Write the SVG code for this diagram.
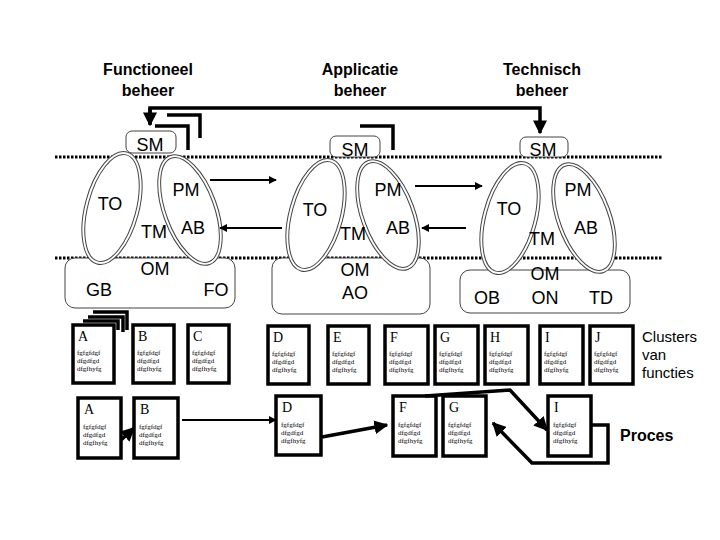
<svg xmlns="http://www.w3.org/2000/svg" width="720" height="540" viewBox="0 0 720 540">
<defs>
<style>
.h{font-family:"Liberation Sans",Arial,sans-serif;font-weight:bold;font-size:16px;text-anchor:middle}
.l{font-family:"Liberation Sans",Arial,sans-serif;font-size:18px;text-anchor:middle}
.o{fill:#fff;stroke:#444;stroke-width:1}
.card rect{fill:#fff;stroke:#000;stroke-width:3.5}
.card text{font-family:"Liberation Serif","Times New Roman",serif}
.t{font-size:7px}
.k{font-size:14px}
.dot{stroke:#000;stroke-width:3;stroke-dasharray:2.5 1.5}
.c{fill:none;stroke:#000;stroke-width:2}
.th{fill:none;stroke:#000;stroke-width:3.5}
</style>
<marker id="a" viewBox="0 0 10 10" refX="9" refY="5" markerWidth="4" markerHeight="4" orient="auto"><path d="M0,0L10,5L0,10z"/></marker>
</defs>
<rect width="720" height="540" fill="#fff"/>
<text class="h" x="148" y="75">Functioneel</text><text class="h" x="148" y="96">beheer</text>
<text class="h" x="360" y="75">Applicatie</text><text class="h" x="360" y="96">beheer</text>
<text class="h" x="542" y="75">Technisch</text><text class="h" x="542" y="96">beheer</text>
<line class="dot" x1="55" y1="157" x2="662" y2="157"/>
<line class="dot" x1="55" y1="258" x2="662" y2="258"/>
<g id="domain1">
<rect class="o" x="65" y="258" width="170" height="50" rx="10"/>
<ellipse class="o" cx="112" cy="208" rx="27" ry="58" transform="rotate(15 112 208)"/>
<ellipse class="o" cx="112" cy="208" rx="24" ry="55" transform="rotate(15 112 208)"/>
<ellipse class="o" cx="190" cy="210" rx="27" ry="58" transform="rotate(-20 190 210)"/>
<ellipse class="o" cx="190" cy="210" rx="24" ry="55" transform="rotate(-20 190 210)"/>
<rect class="o" x="126" y="131" width="50" height="22" rx="6"/>
<text class="l" x="150" y="151">SM</text><text class="l" x="110" y="210">TO</text><text class="l" x="186" y="196">PM</text>
<text class="l" x="154" y="238">TM</text><text class="l" x="193" y="234">AB</text><text class="l" x="155" y="275">OM</text>
<text class="l" x="99" y="296">GB</text><text class="l" x="216" y="296">FO</text>
</g>
<g id="domain2">
<rect class="o" x="272" y="258" width="158" height="56" rx="10"/>
<ellipse class="o" cx="316" cy="215" rx="27" ry="58" transform="rotate(15 316 215)"/>
<ellipse class="o" cx="316" cy="215" rx="24" ry="55" transform="rotate(15 316 215)"/>
<ellipse class="o" cx="388" cy="215" rx="27" ry="58" transform="rotate(-20 388 215)"/>
<ellipse class="o" cx="388" cy="215" rx="24" ry="55" transform="rotate(-20 388 215)"/>
<rect class="o" x="330" y="136" width="50" height="21" rx="6"/>
<text class="l" x="355" y="156">SM</text><text class="l" x="315" y="216">TO</text><text class="l" x="388" y="196">PM</text>
<text class="l" x="353" y="240">TM</text><text class="l" x="398" y="234">AB</text>
<text class="l" x="355" y="276">OM</text><text class="l" x="355" y="299">AO</text>
</g>
<g id="domain3">
<rect class="o" x="460" y="270" width="170" height="43" rx="10"/>
<ellipse class="o" cx="510" cy="218" rx="27" ry="58" transform="rotate(15 510 218)"/>
<ellipse class="o" cx="510" cy="218" rx="24" ry="55" transform="rotate(15 510 218)"/>
<ellipse class="o" cx="584" cy="218" rx="27" ry="58" transform="rotate(-20 584 218)"/>
<ellipse class="o" cx="584" cy="218" rx="24" ry="55" transform="rotate(-20 584 218)"/>
<rect class="o" x="520" y="137" width="48" height="20" rx="6"/>
<text class="l" x="543" y="156">SM</text><text class="l" x="509" y="215">TO</text><text class="l" x="578" y="196">PM</text>
<text class="l" x="542" y="245">TM</text><text class="l" x="586" y="234">AB</text>
<text class="l" x="545" y="280">OM</text><text class="l" x="487" y="304">OB</text><text class="l" x="545" y="304">ON</text><text class="l" x="601" y="304">TD</text>
</g>
<g id="stacks">
<path class="th" d="M167,115H200V138M155,126H188V150M360,126H393V150"/>
<path class="th" d="M93,312H127V330M88,317H123V332M83,321H118V330"/>
</g>
<g id="cards" class="card">
<g><rect x="73" y="325" width="41" height="58"/><text class="k" x="78" y="341">A</text><text class="t" x="77" y="355">fgfgfdgf</text><text class="t" x="77" y="363">dfgdfgd</text><text class="t" x="77" y="371">dfgfhyfg</text></g>
<g><rect x="133" y="325" width="41" height="58"/><text class="k" x="138" y="341">B</text><text class="t" x="137" y="355">fgfgfdgf</text><text class="t" x="137" y="363">dfgdfgd</text><text class="t" x="137" y="371">dfgfhyfg</text></g>
<g><rect x="188" y="325" width="41" height="58"/><text class="k" x="193" y="341">C</text><text class="t" x="192" y="355">fgfgfdgf</text><text class="t" x="192" y="363">dfgdfgd</text><text class="t" x="192" y="371">dfgfhyfg</text></g>
<g><rect x="268" y="326" width="41" height="58"/><text class="k" x="273" y="342">D</text><text class="t" x="272" y="356">fgfgfdgf</text><text class="t" x="272" y="364">dfgdfgd</text><text class="t" x="272" y="372">dfgfhyfg</text></g>
<g><rect x="328" y="326" width="41" height="58"/><text class="k" x="333" y="342">E</text><text class="t" x="332" y="356">fgfgfdgf</text><text class="t" x="332" y="364">dfgdfgd</text><text class="t" x="332" y="372">dfgfhyfg</text></g>
<g><rect x="385" y="326" width="43" height="58"/><text class="k" x="390" y="342">F</text><text class="t" x="389" y="356">fgfgfdgf</text><text class="t" x="389" y="364">dfgdfgd</text><text class="t" x="389" y="372">dfgfhyfg</text></g>
<g><rect x="435" y="326" width="43" height="58"/><text class="k" x="440" y="342">G</text><text class="t" x="439" y="356">fgfgfdgf</text><text class="t" x="439" y="364">dfgdfgd</text><text class="t" x="439" y="372">dfgfhyfg</text></g>
<g><rect x="485" y="326" width="43" height="58"/><text class="k" x="490" y="342">H</text><text class="t" x="489" y="356">fgfgfdgf</text><text class="t" x="489" y="364">dfgdfgd</text><text class="t" x="489" y="372">dfgfhyfg</text></g>
<g><rect x="540" y="326" width="43" height="58"/><text class="k" x="545" y="342">I</text><text class="t" x="544" y="356">fgfgfdgf</text><text class="t" x="544" y="364">dfgdfgd</text><text class="t" x="544" y="372">dfgfhyfg</text></g>
<g><rect x="590" y="326" width="43" height="58"/><text class="k" x="595" y="342">J</text><text class="t" x="594" y="356">fgfgfdgf</text><text class="t" x="594" y="364">dfgdfgd</text><text class="t" x="594" y="372">dfgfhyfg</text></g>
<g><rect x="78" y="398" width="43" height="60"/><text class="k" x="84" y="414">A</text><text class="t" x="83" y="429">fgfgfdgf</text><text class="t" x="83" y="437">dfgdfgd</text><text class="t" x="83" y="445">dfgfhyfg</text></g>
<g><rect x="134" y="398" width="44" height="60"/><text class="k" x="140" y="414">B</text><text class="t" x="139" y="429">fgfgfdgf</text><text class="t" x="139" y="437">dfgdfgd</text><text class="t" x="139" y="445">dfgfhyfg</text></g>
<g><rect x="276" y="396" width="45" height="59"/><text class="k" x="282" y="412">D</text><text class="t" x="281" y="427">fgfgfdgf</text><text class="t" x="281" y="435">dfgdfgd</text><text class="t" x="281" y="443">dfgfhyfg</text></g>
<g><rect x="393" y="396" width="43" height="60"/><text class="k" x="399" y="412">F</text><text class="t" x="398" y="427">fgfgfdgf</text><text class="t" x="398" y="435">dfgdfgd</text><text class="t" x="398" y="443">dfgfhyfg</text></g>
<g><rect x="443" y="396" width="43" height="60"/><text class="k" x="449" y="412">G</text><text class="t" x="448" y="427">fgfgfdgf</text><text class="t" x="448" y="435">dfgdfgd</text><text class="t" x="448" y="443">dfgfhyfg</text></g>
<g><rect x="548" y="396" width="43" height="60"/><text class="k" x="554" y="412">I</text><text class="t" x="553" y="427">fgfgfdgf</text><text class="t" x="553" y="435">dfgdfgd</text><text class="t" x="553" y="443">dfgfhyfg</text></g>
</g>
<g id="connectors">
<path class="th" d="M150,124V108H540V133" marker-end="url(#a)"/>
<path class="th" d="M150,108V125" marker-end="url(#a)"/>
<line class="c" x1="210" y1="180" x2="276" y2="180" marker-end="url(#a)"/>
<line class="c" x1="282" y1="228" x2="220" y2="228" marker-end="url(#a)"/>
<line class="c" x1="415" y1="186" x2="482" y2="186" marker-end="url(#a)"/>
<line class="c" x1="466" y1="228" x2="422" y2="228" marker-end="url(#a)"/>
<line class="th" x1="121" y1="440" x2="134" y2="428" marker-end="url(#a)"/>
<line class="c" x1="182" y1="420" x2="276" y2="420" marker-end="url(#a)"/>
<line class="th" x1="322" y1="437" x2="387" y2="425" marker-end="url(#a)"/>
<path class="th" d="M425,396L510,390L547,430" marker-end="url(#a)"/>
<path class="th" d="M592,425H608V463H532L493,423" marker-end="url(#a)"/>
</g>
<text x="642" y="342" font-family="Liberation Sans,Arial,sans-serif" font-size="15">Clusters</text>
<text x="642" y="360" font-family="Liberation Sans,Arial,sans-serif" font-size="15">van</text>
<text x="642" y="378" font-family="Liberation Sans,Arial,sans-serif" font-size="15">functies</text>
<text x="620" y="441" font-family="Liberation Sans,Arial,sans-serif" font-size="16" font-weight="bold">Proces</text>
</svg>
